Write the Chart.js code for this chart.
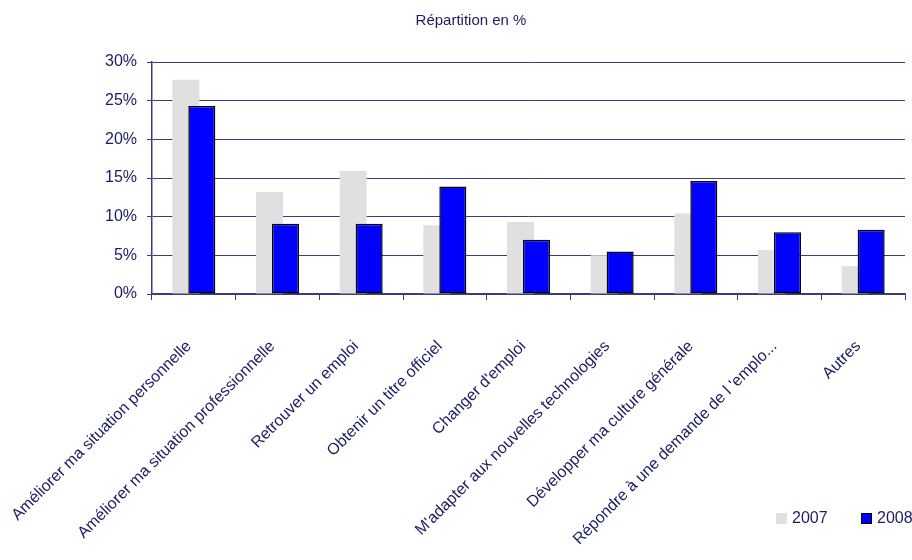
<!DOCTYPE html>
<html lang="fr">
<head>
<meta charset="utf-8">
<script src="https://cdn.jsdelivr.net/npm/chart.js@4/dist/chart.umd.min.js"></script>
<style>
  html, body { margin: 0; padding: 0; background: #fff; }
  #wrap { position: relative; width: 912px; height: 560px; }
  .title { position: absolute; top: 11px; left: 0; width: 942px; text-align: center; font: 15px "Liberation Sans", Arial, sans-serif; color: #1c1c64; }
  .legend { position: absolute; top: 509px; white-space: nowrap; font: 16px "Liberation Sans", Arial, sans-serif; color: #1c1c64; }
  .legend span.box { display: inline-block; width: 11px; height: 11px; margin-right: 5px; vertical-align: -1px; box-sizing: border-box; }
</style>
</head>
<body>
<div id="wrap">
  <canvas id="chart" width="912" height="560"></canvas>
  <div class="title">Répartition en %</div>
  <div class="legend" style="left:776px"><span class="box" style="background:#e0e0e0"></span>2007</div>
  <div class="legend" style="left:861px"><span class="box" style="background:#0000ff;border:1.5px solid #000"></span>2008</div>
</div>
<script>
const categories = [
  "Améliorer ma situation personnelle",
  "Améliorer ma situation professionnelle",
  "Retrouver un emploi",
  "Obtenir un titre officiel",
  "Changer d'emploi",
  "M'adapter aux nouvelles technologies",
  "Développer ma culture générale",
  "Répondre à une demande de l 'emplo...",
  "Autres"
];
const values2007 = [27.7, 13.2, 15.9, 8.9, 9.3, 5.0, 10.4, 5.7, 3.6];
const values2008 = [24.3, 9.1, 9.1, 13.9, 7.0, 5.5, 14.6, 8.0, 8.3];
const yTicks = [0, 5, 10, 15, 20, 25, 30];

const textColor = "#1c1c64";
const lineColor = "#3c3c7c";
const fontFamily = "'Liberation Sans', Arial, sans-serif";

// 2008 bars overlap the 2007 ones, so draw 2007 first (Chart.js draws dataset 0 last)
const drawBehindFirst = {
  id: "drawBehindFirst",
  beforeDatasetDraw(chart, args) {
    if (args.index === 1) {
      chart.getDatasetMeta(0).controller.draw();
    }
    if (args.index === 0) {
      return false;
    }
  }
};

new Chart(document.querySelector("#chart"), {
  type: "bar",
  data: {
    labels: categories,
    datasets: [
      {
        label: "2007",
        data: values2007,
        backgroundColor: "#e0e0e0",
        borderWidth: 0
      },
      {
        label: "2008",
        data: values2008,
        backgroundColor: "#0000ff",
        borderColor: "#000000",
        borderWidth: 1.5,
        borderSkipped: false
      }
    ]
  },
  options: {
    responsive: false,
    animation: false,
    categoryPercentage: 0.382,
    barPercentage: 1.69,
    layout: { padding: { top: 62, left: 0, right: 7, bottom: 0 } },
    plugins: {
      legend: { display: false },
      tooltip: { enabled: false },
      title: { display: false }
    },
    scales: {
      x: {
        offset: true,
        grid: {
          offset: true,
          drawOnChartArea: false,
          color: lineColor,
          tickLength: 6
        },
        border: { color: lineColor, width: 1.5 },
        ticks: {
          color: textColor,
          font: { family: fontFamily, size: 16 },
          minRotation: 45,
          maxRotation: 45,
          autoSkip: false,
          padding: 37,
          labelOffset: -5
        },
        afterFit(scale) {
          scale.height = 266;
          scale.paddingLeft = 0;
          scale.paddingRight = 0;
        }
      },
      y: {
        min: 0,
        max: 30,
        afterBuildTicks(scale) { scale.ticks = yTicks.map((v) => ({ value: v })); },
        grid: { color: lineColor, tickLength: 5 },
        border: { color: lineColor, width: 1.5 },
        ticks: {
          color: textColor,
          font: { family: fontFamily, size: 16 },
          padding: 10,
          callback: (v) => v + "%"
        },
        afterFit(scale) { scale.width = 152; }
      }
    }
  },
  plugins: [drawBehindFirst]
});
</script>
</body>
</html>
